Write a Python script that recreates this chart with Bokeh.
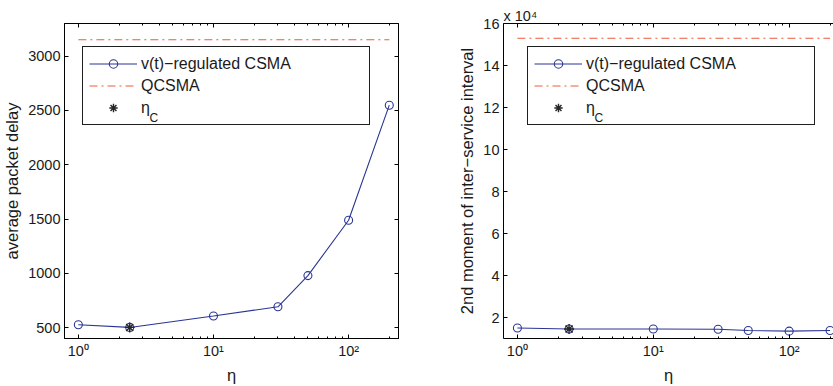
from bokeh.plotting import figure
from bokeh.models import (FixedTicker, LogAxis, LinearAxis, Legend, LegendItem,
                          Label, Range1d, CustomJSTickFormatter, Title)
from bokeh.layouts import row
from bokeh.embed import file_html
from bokeh.resources import INLINE

# ---------------- data ----------------
eta = [1, 2.4, 10, 30, 50, 100, 200]
delay_vt = [527, 502, 607, 692, 979, 1489, 2548]
delay_qcsma = [3150, 3150, 3150, 3150, 3150, 3150, 3150]
eta_c = [2.4]
delay_eta_c = [502]

moment_vt = [15000, 14500, 14500, 14400, 13800, 13500, 13800]
moment_qcsma = [153000, 153000, 153000, 153000, 153000, 153000, 153000]
moment_eta_c = [14500]

x_major = [1, 10, 100]
x_major_labels = ["10\u2070", "10\u00b9", "10\u00b2"]
x_minor = [2, 3, 4, 5, 6, 7, 8, 9, 20, 30, 40, 50, 60, 70, 80, 90, 200]
delay_ticks = [500, 1000, 1500, 2000, 2500, 3000]
moment_ticks = [20000, 40000, 60000, 80000, 100000, 120000, 140000, 160000]
moment_tick_labels = ["2", "4", "6", "8", "10", "12", "14", "16"]
moment_exponent = "x 10\u2074"

series_labels = ["v(t)\u2212regulated CSMA", "QCSMA", "\u03b7"]
eta_c_subscript = "C"

FONT = "Liberation Sans"
BLUE = "#2a3593"
RED = "#f15a3a"
STAR = "#262626"
TXT = "#1a1a1a"

blank = CustomJSTickFormatter(code="return ''")


def style_axis(ax):
    ax.major_tick_in = 4
    ax.major_tick_out = 0
    ax.minor_tick_in = 2
    ax.minor_tick_out = 0
    ax.axis_line_color = "black"
    ax.major_tick_line_color = "black"
    ax.minor_tick_line_color = "black"
    ax.major_label_text_font = FONT
    ax.major_label_text_font_size = "14.5px"
    ax.major_label_text_color = TXT
    ax.axis_label_text_font = FONT
    ax.axis_label_text_font_size = "16.5px"
    ax.axis_label_text_font_style = "normal"
    ax.axis_label_text_color = TXT
    ax.major_label_standoff = 4
    ax.axis_label_standoff = 4


def make_panel(yvals, yq, yc, y_range, y_ticks, y_overrides, ylabel,
               width, border_left, border_right, x_start, x_end, outline,
               legend_x, title_text=None):
    p = figure(width=width, height=386, x_axis_type="log",
               x_range=Range1d(x_start, x_end), y_range=Range1d(*y_range),
               output_backend="svg", toolbar_location=None,
               min_border_left=border_left, min_border_right=border_right,
               min_border_top=23, min_border_bottom=46)
    p.grid.visible = False
    p.outline_line_color = "black" if outline else None
    p.background_fill_color = "white"
    p.border_fill_color = "white"

    xt = FixedTicker(ticks=x_major, minor_ticks=x_minor)
    yt = FixedTicker(ticks=y_ticks, minor_ticks=[])

    xa = p.xaxis[0]
    xa.ticker = xt
    xa.major_label_overrides = dict(zip(x_major, x_major_labels))
    xa.axis_label = "\u03b7"
    style_axis(xa)

    ya = p.yaxis[0]
    ya.ticker = yt
    if y_overrides:
        ya.major_label_overrides = y_overrides
    ya.axis_label = ylabel
    style_axis(ya)

    top = LogAxis(ticker=xt, formatter=blank)
    style_axis(top)
    top.major_label_standoff = 0
    p.add_layout(top, "above")
    if outline:
        right = LinearAxis(ticker=yt, formatter=blank)
        style_axis(right)
        right.major_label_standoff = 0
        p.add_layout(right, "right")

    if title_text:
        p.add_layout(Title(text=title_text, align="left", text_font=FONT,
                           text_font_size="14.5px", text_font_style="normal",
                           text_color=TXT, standoff=0, offset=0), "above")

    ln = p.line(eta, yvals, line_color=BLUE, line_width=1.1)
    cr = p.scatter(eta, yvals, marker="circle", size=8, fill_color=None,
                   line_color=BLUE, line_width=1.1)
    q = p.line(eta, yq, line_color=RED, line_width=1.1, line_dash="8 4 2 4")
    st = p.scatter(eta_c, yc, marker="asterisk", size=10, line_color=STAR,
                   line_width=1.4)

    legend = Legend(items=[LegendItem(label=series_labels[0], renderers=[ln, cr]),
                           LegendItem(label=series_labels[1], renderers=[q]),
                           LegendItem(label=series_labels[2], renderers=[st])],
                    location=(legend_x, 213), margin=0, padding=6, spacing=1,
                    glyph_width=48, glyph_height=21, label_height=21,
                    label_width=222, label_standoff=4,
                    border_line_color="#1f1f1f", border_line_width=1.6,
                    border_line_alpha=1.0,
                    background_fill_color="white", background_fill_alpha=0,
                    label_text_font=FONT, label_text_font_size="16px",
                    label_text_color=TXT)
    p.add_layout(legend, "center")
    # subscript C of eta_C in the legend (anchored at the frame's top-left corner)
    p.add_layout(Label(x=x_start, y=y_range[1], x_offset=legend_x + 67,
                       y_offset=-94, text=eta_c_subscript, text_font=FONT,
                       text_font_size="12px", text_color=TXT,
                       text_baseline="middle", level="overlay"))
    return p


p1 = make_panel(delay_vt, delay_qcsma, delay_eta_c, (400, 3300), delay_ticks,
                None, "average packet delay", 420, 63, 22, 0.79, 234, True, 18)
p2 = make_panel(moment_vt, moment_qcsma, moment_eta_c, (10000, 160000),
                moment_ticks, dict(zip(moment_ticks, moment_tick_labels)),
                "2nd moment of inter\u2212service interval", 413, 83, 0,
                0.79, 212, False, 24, title_text=moment_exponent)

layout = row(p1, p2, spacing=0)
open("out.html", "w").write(file_html(layout, INLINE))
